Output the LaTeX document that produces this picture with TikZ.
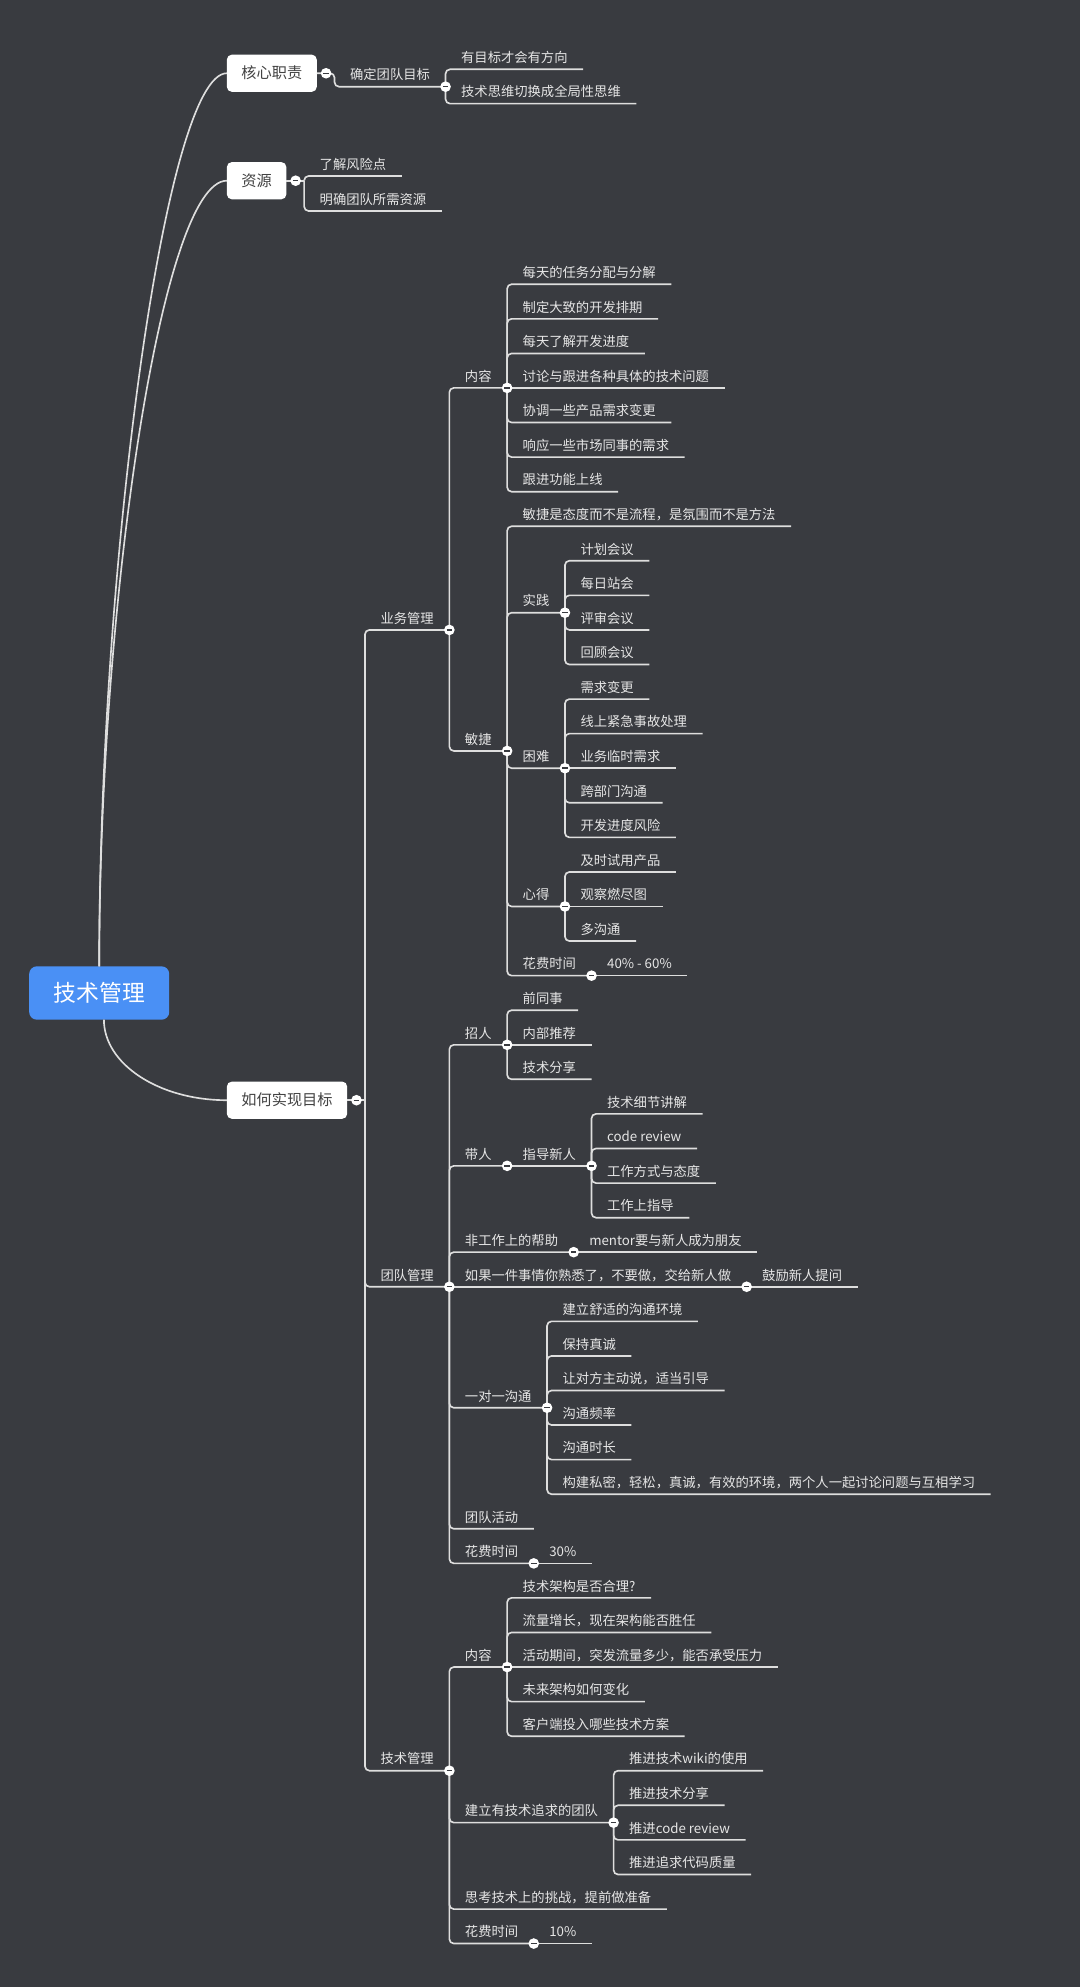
\documentclass[tikz,border=0pt]{standalone}
\usepackage{fontspec}
\newfontfamily\zhfont{Noto Sans CJK SC}
\usetikzlibrary{calc}

\definecolor{bgdark}{RGB}{57,59,64}
\definecolor{linegray}{RGB}{222,222,222}
\definecolor{txtgray}{RGB}{230,230,230}
\definecolor{boxtxt}{RGB}{66,66,66}
\definecolor{rootblue}{RGB}{74,144,245}

\tikzset{every picture/.style={line width=1.3pt}}
\tikzset{
  topic/.style={anchor=south west, outer sep=0pt, inner xsep=12.3pt, inner ysep=4.56pt, text height=8.4pt, text depth=0.74pt, text=txtgray, font=\zhfont\fontsize{10.5}{12}\selectfont},
  mainbox/.style={anchor=west, outer sep=0pt, fill=white, rounded corners=4pt, inner xsep=11.5pt, minimum height=29.4pt, text height=9.6pt, text depth=0.84pt, text=boxtxt, font=\zhfont\fontsize{12}{14}\selectfont},
  rootbox/.style={outer sep=0pt, fill=rootblue, rounded corners=6pt, minimum width=110.5pt, minimum height=42.1pt, text height=14.4pt, text depth=1.26pt, text=white, font=\zhfont\fontsize{18}{20}\selectfont},
  branch/.style={draw=linegray, rounded corners=3.5pt},
  fold/.style={circle, fill=white, inner sep=0pt, minimum size=8.4pt, path picture={\draw[bgdark, line width=1.1pt] ([xshift=-2.2pt]path picture bounding box.center) -- ([xshift=2.2pt]path picture bounding box.center);}},
}

\begin{document}
\begin{tikzpicture}[x=1pt,y=1pt,yscale=-1]
%Background
\fill[bgdark] (0,0) rectangle (852,1568);
\useasboundingbox (0,0) rectangle (852,1568);

% Root and main topics
\node[rootbox] (root) at (78.3,783.6) {技术管理};
\node[mainbox] (hxzz) at (179,57.8) {核心职责};
\node[mainbox] (zy) at (179,142.6) {资源};
\node[mainbox] (rhsx) at (179,868.2) {如何实现目标};
\coordinate (hxzz-j) at ([xshift=14pt]hxzz.east);
\coordinate (zy-j) at ([xshift=14pt]zy.east);
\coordinate (rhsx-j) at ([xshift=14pt]rhsx.east);

%Curve Lines
\draw[linegray] (root.north) .. controls (78.3,450) and (130,57.8) .. (hxzz.west);
\draw[linegray] (root.north) .. controls (78.3,480) and (127,142.6) .. (zy.west);
\draw[linegray] ([xshift=3.7pt]root.south) .. controls (82,839.6) and (125.3,868.2) .. (rhsx.west);

% Text Node: 核心职责
\node[topic] (qdtd) at (hxzz-j |- 0,68.4) {确定团队目标};
\node[topic] (ymb) at (qdtd.south east |- 0,54.7) {有目标才会有方向};
\node[topic] (jssw) at (qdtd.south east |- 0,81.8) {技术思维切换成全局性思维};
\draw[branch] (hxzz.east) -- (hxzz-j) |- (qdtd.south east);
\draw[branch] (qdtd.south east) |- (ymb.south east);
\draw[branch] (qdtd.south east) |- (jssw.south east);

% Text Node: 资源
\node[topic] (ljfx) at (zy-j |- 0,138.9) {了解风险点};
\node[topic] (mqtd) at (zy-j |- 0,166.5) {明确团队所需资源};
\draw[branch] (zy.east) -- (zy-j);
\draw[branch] (zy-j) |- (ljfx.south east);
\draw[branch] (zy-j) |- (mqtd.south east);

% Text Node: 如何实现目标
\node[topic] (ywgl) at (rhsx-j |- 0,497.1) {业务管理};
\node[topic] (tdgl) at (rhsx-j |- 0,1015.4) {团队管理};
\node[topic] (jsgl) at (rhsx-j |- 0,1397.3) {技术管理};
\draw[branch] (rhsx.east) -- (rhsx-j);
\draw[branch] (rhsx-j) |- (ywgl.south east);
\draw[branch] (rhsx-j) |- (tdgl.south east);
\draw[branch] (rhsx-j) |- (jsgl.south east);

% Text Node: 业务管理
\node[topic] (nr1) at (ywgl.south east |- 0,306.1) {内容};
\node[topic] (nr1a) at (nr1.south east |- 0,224.3) {每天的任务分配与分解};
\node[topic] (nr1b) at (nr1.south east |- 0,251.6) {制定大致的开发排期};
\node[topic] (nr1c) at (nr1.south east |- 0,278.9) {每天了解开发进度};
\node[topic] (nr1d) at (nr1.south east |- 0,306.1) {讨论与跟进各种具体的技术问题};
\node[topic] (nr1e) at (nr1.south east |- 0,333.4) {协调一些产品需求变更};
\node[topic] (nr1f) at (nr1.south east |- 0,360.7) {响应一些市场同事的需求};
\node[topic] (nr1g) at (nr1.south east |- 0,388.0) {跟进功能上线};
\node[topic] (mj) at (ywgl.south east |- 0,592.6) {敏捷};
\node[topic] (mja) at (mj.south east |- 0,415.3) {敏捷是态度而不是流程，是氛围而不是方法};
\node[topic] (sj) at (mj.south east |- 0,483.5) {实践};
\node[topic] (sja) at (sj.south east |- 0,442.5) {计划会议};
\node[topic] (sjb) at (sj.south east |- 0,469.8) {每日站会};
\node[topic] (sjc) at (sj.south east |- 0,497.1) {评审会议};
\node[topic] (sjd) at (sj.south east |- 0,524.4) {回顾会议};
\node[topic] (kn) at (mj.south east |- 0,606.2) {困难};
\node[topic] (kna) at (kn.south east |- 0,551.7) {需求变更};
\node[topic] (knb) at (kn.south east |- 0,578.9) {线上紧急事故处理};
\node[topic] (knc) at (kn.south east |- 0,606.2) {业务临时需求};
\node[topic] (knd) at (kn.south east |- 0,633.5) {跨部门沟通};
\node[topic] (kne) at (kn.south east |- 0,660.8) {开发进度风险};
\node[topic] (xd) at (mj.south east |- 0,715.3) {心得};
\node[topic] (xda) at (xd.south east |- 0,688.1) {及时试用产品};
\node[topic] (xdb) at (xd.south east |- 0,715.3) {观察燃尽图};
\node[topic] (xdc) at (xd.south east |- 0,742.6) {多沟通};
\node[topic] (hf1) at (mj.south east |- 0,769.9) {花费时间};
\node[topic] (hf1v) at (hf1.south east) {40\% - 60\%};

\draw[branch] (ywgl.south east) |- (nr1.south east);
\draw[branch] (ywgl.south east) |- (mj.south east);
\draw[branch] (nr1.south east) |- (nr1a.south east);
\draw[branch] (nr1.south east) |- (nr1b.south east);
\draw[branch] (nr1.south east) |- (nr1c.south east);
\draw[branch] (nr1.south east) -- (nr1d.south east);
\draw[branch] (nr1.south east) |- (nr1e.south east);
\draw[branch] (nr1.south east) |- (nr1f.south east);
\draw[branch] (nr1.south east) |- (nr1g.south east);
\draw[branch] (mj.south east) |- (mja.south east);
\draw[branch] (mj.south east) |- (sj.south east);
\draw[branch] (mj.south east) |- (kn.south east);
\draw[branch] (mj.south east) |- (xd.south east);
\draw[branch] (mj.south east) |- (hf1.south east);
\draw[branch] (sj.south east) |- (sja.south east);
\draw[branch] (sj.south east) |- (sjb.south east);
\draw[branch] (sj.south east) |- (sjc.south east);
\draw[branch] (sj.south east) |- (sjd.south east);
\draw[branch] (kn.south east) |- (kna.south east);
\draw[branch] (kn.south east) |- (knb.south east);
\draw[branch] (kn.south east) -- (knc.south east);
\draw[branch] (kn.south east) |- (knd.south east);
\draw[branch] (kn.south east) |- (kne.south east);
\draw[branch] (xd.south east) |- (xda.south east);
\draw[branch] (xd.south east) -- (xdb.south east);
\draw[branch] (xd.south east) |- (xdc.south east);
\draw[branch] (hf1.south east) -- (hf1v.south east);

% Text Node: 团队管理
\node[topic] (zr) at (tdgl.south east |- 0,824.5) {招人};
\node[topic] (zra) at (zr.south east |- 0,797.2) {前同事};
\node[topic] (zrb) at (zr.south east |- 0,824.5) {内部推荐};
\node[topic] (zrc) at (zr.south east |- 0,851.7) {技术分享};
\node[topic] (dr) at (tdgl.south east |- 0,920.0) {带人};
\node[topic] (zdxr) at (dr.south east) {指导新人};
\node[topic] (zda) at (zdxr.south east |- 0,879.0) {技术细节讲解};
\node[topic] (zdb) at (zdxr.south east |- 0,906.3) {code review};
\node[topic] (zdc) at (zdxr.south east |- 0,933.6) {工作方式与态度};
\node[topic] (zdd) at (zdxr.south east |- 0,960.9) {工作上指导};
\node[topic] (fgz) at (tdgl.south east |- 0,988.1) {非工作上的帮助};
\node[topic] (fgza) at (fgz.south east) {mentor要与新人成为朋友};
\node[topic] (rgyj) at (tdgl.south east |- 0,1015.4) {如果一件事情你熟悉了，不要做，交给新人做};
\node[topic] (rgyja) at (rgyj.south east) {鼓励新人提问};
\node[topic] (ydy) at (tdgl.south east |- 0,1110.9) {一对一沟通};
\node[topic] (ydya) at (ydy.south east |- 0,1042.7) {建立舒适的沟通环境};
\node[topic] (ydyb) at (ydy.south east |- 0,1070.0) {保持真诚};
\node[topic] (ydyc) at (ydy.south east |- 0,1097.3) {让对方主动说，适当引导};
\node[topic] (ydyd) at (ydy.south east |- 0,1124.5) {沟通频率};
\node[topic] (ydye) at (ydy.south east |- 0,1151.8) {沟通时长};
\node[topic] (ydyf) at (ydy.south east |- 0,1179.1) {构建私密，轻松，真诚，有效的环境，两个人一起讨论问题与互相学习};
\node[topic] (tdhd) at (tdgl.south east |- 0,1206.4) {团队活动};
\node[topic] (hf2) at (tdgl.south east |- 0,1233.7) {花费时间};
\node[topic] (hf2v) at (hf2.south east) {30\%};

\draw[branch] (tdgl.south east) |- (zr.south east);
\draw[branch] (tdgl.south east) |- (dr.south east);
\draw[branch] (tdgl.south east) |- (fgz.south east);
\draw[branch] (tdgl.south east) -- (rgyj.south east);
\draw[branch] (tdgl.south east) |- (ydy.south east);
\draw[branch] (tdgl.south east) |- (tdhd.south east);
\draw[branch] (tdgl.south east) |- (hf2.south east);
\draw[branch] (zr.south east) |- (zra.south east);
\draw[branch] (zr.south east) -- (zrb.south east);
\draw[branch] (zr.south east) |- (zrc.south east);
\draw[branch] (dr.south east) -- (zdxr.south east);
\draw[branch] (zdxr.south east) |- (zda.south east);
\draw[branch] (zdxr.south east) |- (zdb.south east);
\draw[branch] (zdxr.south east) |- (zdc.south east);
\draw[branch] (zdxr.south east) |- (zdd.south east);
\draw[branch] (fgz.south east) -- (fgza.south east);
\draw[branch] (rgyj.south east) -- (rgyja.south east);
\draw[branch] (ydy.south east) |- (ydya.south east);
\draw[branch] (ydy.south east) |- (ydyb.south east);
\draw[branch] (ydy.south east) |- (ydyc.south east);
\draw[branch] (ydy.south east) |- (ydyd.south east);
\draw[branch] (ydy.south east) |- (ydye.south east);
\draw[branch] (ydy.south east) |- (ydyf.south east);
\draw[branch] (hf2.south east) -- (hf2v.south east);

% Text Node: 技术管理
\node[topic] (nr3) at (jsgl.south east |- 0,1315.5) {内容};
\node[topic] (nr3a) at (nr3.south east |- 0,1260.9) {技术架构是否合理?};
\node[topic] (nr3b) at (nr3.south east |- 0,1288.2) {流量增长，现在架构能否胜任};
\node[topic] (nr3c) at (nr3.south east |- 0,1315.5) {活动期间，突发流量多少，能否承受压力};
\node[topic] (nr3d) at (nr3.south east |- 0,1342.8) {未来架构如何变化};
\node[topic] (nr3e) at (nr3.south east |- 0,1370.1) {客户端投入哪些技术方案};
\node[topic] (jlyj) at (jsgl.south east |- 0,1438.3) {建立有技术追求的团队};
\node[topic] (jlyja) at (jlyj.south east |- 0,1397.3) {推进技术wiki的使用};
\node[topic] (jlyjb) at (jlyj.south east |- 0,1424.6) {推进技术分享};
\node[topic] (jlyjc) at (jlyj.south east |- 0,1451.9) {推进code review};
\node[topic] (jlyjd) at (jlyj.south east |- 0,1479.2) {推进追求代码质量};
\node[topic] (sk) at (jsgl.south east |- 0,1506.5) {思考技术上的挑战，提前做准备};
\node[topic] (hf3) at (jsgl.south east |- 0,1533.7) {花费时间};
\node[topic] (hf3v) at (hf3.south east) {10\%};

\draw[branch] (jsgl.south east) |- (nr3.south east);
\draw[branch] (jsgl.south east) |- (jlyj.south east);
\draw[branch] (jsgl.south east) |- (sk.south east);
\draw[branch] (jsgl.south east) |- (hf3.south east);
\draw[branch] (nr3.south east) |- (nr3a.south east);
\draw[branch] (nr3.south east) |- (nr3b.south east);
\draw[branch] (nr3.south east) -- (nr3c.south east);
\draw[branch] (nr3.south east) |- (nr3d.south east);
\draw[branch] (nr3.south east) |- (nr3e.south east);
\draw[branch] (jlyj.south east) |- (jlyja.south east);
\draw[branch] (jlyj.south east) |- (jlyjb.south east);
\draw[branch] (jlyj.south east) |- (jlyjc.south east);
\draw[branch] (jlyj.south east) |- (jlyjd.south east);
\draw[branch] (hf3.south east) -- (hf3v.south east);

%Fold markers
\node[fold] (hxzz-f) at ([xshift=7.3pt]hxzz.east) {};
\node[fold] (zy-f) at ([xshift=7.3pt]zy.east) {};
\node[fold] (rhsx-f) at ([xshift=7.3pt]rhsx.east) {};
\node[fold] (qdtd-f) at (qdtd.south east) {};
\node[fold] (ywgl-f) at (ywgl.south east) {};
\node[fold] (nr1-f) at (nr1.south east) {};
\node[fold] (mj-f) at (mj.south east) {};
\node[fold] (sj-f) at (sj.south east) {};
\node[fold] (kn-f) at (kn.south east) {};
\node[fold] (xd-f) at (xd.south east) {};
\node[fold] (hf1-f) at (hf1.south east) {};
\node[fold] (tdgl-f) at (tdgl.south east) {};
\node[fold] (zr-f) at (zr.south east) {};
\node[fold] (dr-f) at (dr.south east) {};
\node[fold] (zdxr-f) at (zdxr.south east) {};
\node[fold] (fgz-f) at (fgz.south east) {};
\node[fold] (rgyj-f) at (rgyj.south east) {};
\node[fold] (ydy-f) at (ydy.south east) {};
\node[fold] (hf2-f) at (hf2.south east) {};
\node[fold] (jsgl-f) at (jsgl.south east) {};
\node[fold] (nr3-f) at (nr3.south east) {};
\node[fold] (jlyj-f) at (jlyj.south east) {};
\node[fold] (hf3-f) at (hf3.south east) {};

\end{tikzpicture}
\end{document}
